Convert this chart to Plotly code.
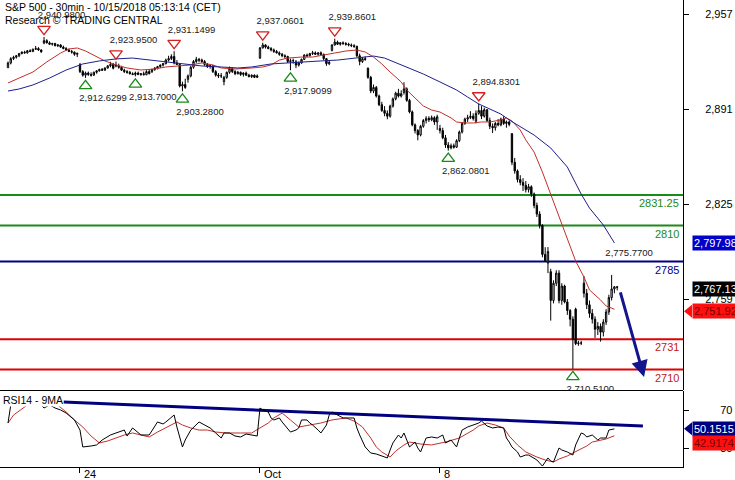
import plotly.graph_objects as go

# ---------------- DATA ----------------
# 30-min bars, S&P 500, Sep 20 - Oct 12 2018 (13 bars per session)
opens = [
    2919.7, 2923, 2926, 2927, 2928, 2929.5, 2930.5, 2930, 2931.5, 2931, 2932.5, 2933, 2932,
    2936.8, 2938.5, 2937, 2936, 2936.5, 2935, 2935.5, 2934, 2933, 2932, 2931, 2930.5, 2929,
    2921.8, 2917, 2914.5, 2916, 2915, 2914.5, 2916.5, 2917.5, 2918.5, 2918, 2919.5, 2921, 2922,
    2921.5, 2921, 2920, 2918, 2917, 2916.5, 2915.5, 2915, 2916, 2915, 2915.5, 2914.8, 2917,
    2917, 2918.5, 2919.5, 2920.5, 2921.5, 2922.5, 2925, 2926, 2927.5, 2923, 2922, 2907, 2908,
    2911.6, 2914, 2920, 2924, 2925.5, 2925, 2924, 2922, 2920.5, 2921, 2917, 2914.5, 2914,
    2910, 2913, 2916.5, 2919, 2917, 2915.5, 2916.5, 2915, 2916, 2914.5, 2913.5, 2914.5, 2913,
    2926.3, 2933.5, 2935.5, 2934, 2933, 2932, 2931, 2930, 2929, 2928, 2927.5, 2924, 2924.5,
    2923.8, 2921.5, 2923, 2925.5, 2928.5, 2928, 2929.5, 2930, 2929, 2930, 2929, 2926, 2922.5,
    2931.7, 2935.5, 2937.5, 2936, 2937, 2936.5, 2936, 2935.5, 2935, 2934.5, 2928, 2924, 2926,
    2919.4, 2913, 2903.5, 2906, 2900, 2894, 2890, 2888, 2886, 2893, 2898, 2902, 2900,
    2902.5, 2905, 2897, 2889, 2880, 2876, 2873, 2879, 2883, 2884.5, 2883.5, 2885, 2882,
    2877.5, 2876, 2871, 2866, 2864, 2865.5, 2864.5, 2869, 2875, 2881, 2884, 2885, 2886,
    2882.5, 2888, 2890, 2886, 2890.5, 2883, 2879, 2878, 2881, 2880, 2884, 2881, 2882,
    2873.9, 2854, 2848, 2842, 2840, 2838, 2835, 2837, 2832, 2824, 2818, 2810, 2790,
    2784, 2778, 2758, 2770, 2777, 2758, 2768, 2757, 2751, 2745, 2752, 2728, 2728.5,
    2770, 2763, 2755, 2749, 2745, 2738, 2740, 2736, 2743, 2750, 2760, 2766, 2767.5,
]
highs = [
    2924, 2927, 2928, 2928.5, 2930, 2931, 2931.5, 2932, 2932.5, 2933, 2934.8, 2934, 2932.5,
    2940.98, 2939.5, 2938, 2937, 2937, 2936, 2936, 2935, 2934, 2933, 2932, 2931, 2930,
    2923, 2918, 2917, 2917, 2916.5, 2917, 2918, 2919, 2919.5, 2920, 2921.5, 2923.8, 2923,
    2923.95, 2922.5, 2921, 2919, 2918, 2917.5, 2916.5, 2917, 2917, 2916, 2917, 2918, 2918.5,
    2919, 2920, 2921, 2922, 2923, 2926, 2928, 2929, 2931.15, 2925, 2922.5, 2910, 2912,
    2915, 2921, 2925, 2927.2, 2926.5, 2926, 2925, 2923, 2922, 2921.5, 2918, 2916, 2916,
    2914, 2917, 2920.5, 2920, 2918, 2917.5, 2917, 2916.5, 2917, 2915.5, 2915, 2915, 2915,
    2934, 2937.06, 2936, 2935, 2934, 2933, 2932, 2931, 2930, 2929, 2928, 2926, 2926,
    2925, 2924, 2926, 2929, 2929.5, 2930, 2931.4, 2931, 2930.5, 2931, 2929.5, 2926.5, 2925,
    2936, 2939.86, 2938.5, 2937.5, 2938, 2937.5, 2937, 2936.5, 2936, 2935, 2929.5, 2927, 2927.5,
    2919.8, 2914, 2908, 2907, 2901, 2896, 2893, 2890, 2894, 2899, 2903, 2905, 2904,
    2909.6, 2906, 2898, 2890, 2881, 2877, 2880, 2884, 2886, 2886, 2886.5, 2886, 2887,
    2880, 2878, 2873, 2868, 2867, 2867, 2870, 2876, 2882, 2885, 2887, 2889.5, 2888,
    2890, 2894.83, 2893, 2892, 2891, 2885, 2881, 2882, 2884, 2885, 2886, 2883, 2883,
    2874, 2857, 2849, 2845, 2843, 2841, 2839, 2838, 2833, 2826, 2820, 2811, 2795,
    2795.1, 2780, 2772, 2779, 2779, 2770, 2769, 2759, 2752, 2747, 2753, 2730, 2730,
    2775, 2766, 2758, 2752, 2747, 2743, 2742, 2745, 2752, 2762, 2775.77, 2768, 2768,
]
lows = [
    2919.7, 2922, 2925, 2926, 2927, 2929, 2929.5, 2929.5, 2930.5, 2930.5, 2932, 2931.5, 2930,
    2936, 2936.5, 2935.5, 2935, 2934.5, 2934, 2933.5, 2932.5, 2931.5, 2930.5, 2929.5, 2928, 2927.1,
    2916, 2913.5, 2912.63, 2914, 2913.5, 2914, 2915.5, 2917, 2917.5, 2917.5, 2919, 2920, 2918.5,
    2920, 2919, 2917.5, 2916, 2915.5, 2915, 2914.5, 2913.7, 2914.5, 2914, 2914.5, 2914.5, 2915,
    2916, 2917.5, 2918.5, 2919.5, 2920.5, 2922, 2924, 2925, 2922, 2921.5, 2906, 2903.28, 2905,
    2909.3, 2913, 2919, 2923, 2923.5, 2923, 2921, 2919.5, 2919, 2916, 2913.5, 2912.5, 2912.5,
    2907.5, 2912, 2915.5, 2916, 2914.5, 2915, 2914, 2913.5, 2914, 2913, 2912.5, 2912.5, 2912.5,
    2926, 2933, 2933, 2932.5, 2931, 2930, 2929.5, 2928, 2927, 2926, 2923, 2917.91, 2922.5,
    2919.4, 2920.5, 2922.5, 2925, 2927, 2927.5, 2928.5, 2928.5, 2928, 2928.5, 2925, 2921, 2921.5,
    2931, 2935, 2935.5, 2935, 2935.5, 2935, 2934.5, 2934, 2933.5, 2927, 2921.4, 2923, 2924.5,
    2912, 2902, 2902, 2899, 2893, 2889, 2886, 2883.9, 2885, 2892, 2897, 2899, 2899,
    2901, 2896, 2888, 2879, 2874, 2869.3, 2872, 2878, 2881, 2882, 2882.5, 2880, 2876.5,
    2874, 2870, 2864, 2862.08, 2863, 2863.5, 2864, 2868, 2874, 2880, 2882, 2884, 2883,
    2881, 2887, 2884, 2885, 2882, 2877, 2874.3, 2876, 2879, 2879, 2880, 2878, 2879,
    2852, 2846, 2840, 2838, 2834, 2833, 2833, 2830, 2822, 2816, 2808, 2788, 2784.9,
    2777, 2744, 2756, 2768, 2756, 2755, 2756, 2748, 2740, 2710.51, 2727, 2726.5, 2727,
    2760, 2752, 2746, 2742, 2732, 2734, 2729.44, 2733, 2741, 2748, 2758, 2763, 2765,
]
closes = [
    2923, 2926, 2927, 2928, 2929.5, 2930.5, 2930, 2931.5, 2931, 2932.5, 2933, 2932, 2930.8,
    2938.5, 2937, 2936, 2936.5, 2935, 2935.5, 2934, 2933, 2932, 2931, 2930.5, 2929, 2929.7,
    2917, 2914.5, 2916, 2915, 2914.5, 2916.5, 2917.5, 2918.5, 2918, 2919.5, 2921, 2922, 2919.4,
    2921, 2920, 2918, 2917, 2916.5, 2915.5, 2915, 2916, 2915, 2915.5, 2914.8, 2917, 2915.6,
    2918.5, 2919.5, 2920.5, 2921.5, 2922.5, 2925, 2926, 2927.5, 2923, 2922, 2907, 2908, 2906,
    2914, 2920, 2924, 2925.5, 2925, 2924, 2922, 2920.5, 2921, 2917, 2914.5, 2914, 2914,
    2913, 2916.5, 2919, 2917, 2915.5, 2916.5, 2915, 2916, 2914.5, 2913.5, 2914.5, 2913, 2914,
    2933.5, 2935.5, 2934, 2933, 2932, 2931, 2930, 2929, 2928, 2927.5, 2924, 2924.5, 2924.6,
    2921.5, 2923, 2925.5, 2928.5, 2928, 2929.5, 2930, 2929, 2930, 2929, 2926, 2922.5, 2923.4,
    2935.5, 2937.5, 2936, 2937, 2936.5, 2936, 2935.5, 2935, 2934.5, 2928, 2924, 2926, 2925.5,
    2913, 2903.5, 2906, 2900, 2894, 2890, 2888, 2886, 2893, 2898, 2902, 2900, 2901.6,
    2905, 2897, 2889, 2880, 2876, 2873, 2879, 2883, 2884.5, 2883.5, 2885, 2882, 2885.6,
    2876, 2871, 2866, 2864, 2865.5, 2864.5, 2869, 2875, 2881, 2884, 2885, 2886, 2884.4,
    2888, 2890, 2886, 2890.5, 2883, 2879, 2878, 2881, 2880, 2884, 2881, 2882, 2880.3,
    2854, 2848, 2842, 2840, 2838, 2835, 2837, 2832, 2824, 2818, 2810, 2790, 2785.7,
    2792, 2758, 2770, 2777, 2758, 2768, 2757, 2751, 2745, 2731, 2728, 2728.5, 2728.4,
    2763, 2755, 2749, 2745, 2738, 2740, 2736, 2743, 2750, 2760, 2766, 2767.5, 2767.13,
]
bars = list(range(len(closes)))

# moving averages on price (bar index, value)
ma_fast_bars = [0, 3, 9, 14, 19, 22, 25, 28, 31, 35, 39, 43, 48, 53, 57, 62, 66, 70, 74, 77,
                82, 88, 92, 95, 98, 101, 106, 110, 114, 119, 122, 126, 129, 132, 135, 138, 142, 144, 147, 150,
                153, 156, 160, 162, 165, 168, 171, 174, 178, 180, 182, 185, 187, 190, 193, 196, 200, 202, 205, 208,
                210, 214, 216, 219]
ma_fast_vals = [2909.1, 2911.8, 2916.7, 2923.7, 2929.9, 2932.7, 2933.4, 2931.3, 2928.5, 2924.4,
                2921.6, 2919.5, 2918.1, 2918.8, 2920.2, 2920.9, 2921.6, 2923.0, 2921.6, 2919.5,
                2918.8, 2919.5, 2920.2, 2921.6, 2925.0, 2926.4, 2927.1, 2927.1, 2928.5, 2930.6,
                2931.3, 2932.0, 2930.6, 2927.1, 2922.3, 2916.7, 2909.8, 2904.2, 2898.6, 2893.1,
                2890.3, 2888.9, 2884.8, 2882.0, 2881.3, 2881.3, 2882.0, 2882.0, 2883.4, 2884.8,
                2882.7, 2876.4, 2869.5, 2861.1, 2847.2, 2831.9, 2810.4, 2800.0, 2785.4, 2774.3,
                2765.3, 2758.3, 2754.2, 2751.92]
ma_slow_bars = [0, 4, 9, 15, 21, 27, 33, 39, 45, 51, 57, 64, 70, 77, 83, 88, 95, 101, 106, 113,
                119, 126, 132, 136, 142, 150, 156, 162, 166, 170, 178, 181, 190, 196, 202, 207, 210, 215, 219]
ma_slow_vals = [2903.5, 2904.9, 2907.7, 2912.5, 2918.1, 2922.3, 2924.4, 2925.8, 2926.4, 2925.0,
                2923.7, 2922.3, 2920.9, 2920.2, 2919.5, 2920.2, 2922.3, 2923.0, 2923.7, 2924.4,
                2925.0, 2926.4, 2927.8, 2926.4, 2921.6, 2915.3, 2909.8, 2904.2, 2899.3, 2894.5,
                2887.5, 2883.4, 2872.9, 2863.9, 2850.7, 2831.9, 2822.2, 2810.4, 2797.98]

# RSI(14) and its 9-period MA
rsi_bars = [0, 1, 3, 6, 9, 12, 13, 15, 17, 19, 21, 24, 26, 27, 30, 32, 34, 37, 39, 42,
            43, 45, 48, 51, 54, 56, 57, 60, 61, 63, 64, 66, 69, 71, 73, 75, 77, 78, 80, 82,
            84, 86, 88, 90, 91, 92, 94, 95, 96, 98, 99, 101, 102, 104, 105, 106, 108, 109, 110, 112,
            113, 115, 116, 117, 119, 121, 122, 125, 126, 127, 129, 131, 133, 134, 136, 137, 138, 139, 141, 142,
            143, 145, 147, 148, 149, 150, 151, 153, 155, 157, 158, 160, 162, 163, 164, 166, 168, 170, 171, 172,
            173, 175, 177, 179, 180, 181, 182, 184, 185, 187, 188, 191, 193, 195, 196, 197, 199, 200, 202, 204,
            205, 207, 208, 209, 211, 213, 214, 216, 217, 219]
rsi_vals = [56.3, 75.3, 82.6, 84.7, 81.6, 75.3, 72.1, 75.3, 72.1, 70.0,
            66.8, 59.5, 48.9, 31.1, 32.1, 33.2, 38.4, 43.7, 45.8, 48.9,
            42.6, 51.1, 43.7, 43.7, 57.4, 55.3, 57.4, 64.7, 52.1, 31.1,
            38.4, 48.9, 57.4, 54.2, 51.1, 45.8, 40.5, 45.8, 45.8, 42.6,
            41.6, 44.7, 43.7, 42.6, 72.1, 70.0, 67.9, 61.6, 59.5, 61.6,
            57.4, 51.1, 46.8, 48.9, 51.1, 59.5, 59.5, 56.3, 54.2, 48.9,
            45.8, 54.2, 64.7, 67.9, 64.7, 61.6, 61.6, 61.6, 51.1, 43.7,
            31.1, 24.7, 23.7, 22.6, 20.5, 19.5, 27.9, 35.3, 43.7, 40.5,
            45.8, 31.1, 36.3, 30.0, 25.8, 33.2, 40.5, 41.6, 40.5, 43.7,
            35.3, 38.4, 31.1, 40.5, 48.9, 52.1, 54.2, 56.3, 58.4, 55.3,
            53.2, 51.1, 52.1, 51.1, 40.5, 36.3, 31.1, 25.8, 20.5, 22.6,
            22.6, 17.4, 11.0, 19.5, 16.3, 15.3, 30.0, 27.9, 25.8, 22.6,
            33.2, 45.8, 44.7, 41.6, 43.7, 38.4, 40.5, 40.5, 48.9, 50.1515]
rsi_ma_bars = [0, 2, 7, 12, 17, 21, 24, 27, 30, 33, 36, 39, 42, 45, 48, 51, 54, 57, 61, 63,
               66, 69, 72, 75, 79, 84, 88, 91, 94, 96, 99, 102, 105, 109, 113, 117, 122, 125, 128, 131,
               133, 135, 138, 140, 143, 145, 149, 153, 158, 163, 168, 170, 173, 176, 179, 181, 184, 187, 191, 194,
               197, 199, 202, 204, 207, 209, 211, 214, 216, 219]
rsi_ma_vals = [56.3, 64.7, 75.3, 80.5, 77.4, 67.9, 59.5, 52.1, 42.6, 35.3,
               37.4, 40.5, 43.7, 45.8, 43.7, 41.6, 46.8, 51.1, 57.4, 54.2,
               51.1, 48.9, 48.9, 46.8, 45.8, 45.8, 45.8, 51.1, 56.3, 61.6,
               66.8, 59.5, 52.1, 54.2, 56.3, 59.5, 61.6, 58.4, 52.1, 40.5,
               31.1, 25.8, 20.5, 26.8, 33.2, 36.3, 34.2, 33.2, 36.3, 40.5,
               48.9, 53.2, 56.3, 54.2, 51.1, 42.6, 33.2, 25.8, 20.5, 17.4,
               15.3, 18.4, 21.6, 24.7, 29.0, 32.1, 36.3, 38.4, 39.5, 42.9174]
rsi_trend_bars = [20, 229.3]
rsi_trend_vals = [78.4, 53.2]

# pivots
peak_bars = [13, 39, 60, 92, 118, 170]
peak_vals = [2940.98, 2923.95, 2931.1499, 2937.0601, 2939.8601, 2894.8301]
peak_labels = ["2,940.9800", "2,923.9500", "2,931.1499", "2,937.0601", "2,939.8601", "2,894.8301"]
trough_bars = [28, 46, 63, 102, 159, 204]
trough_vals = [2912.6299, 2913.70, 2903.28, 2917.9099, 2862.0801, 2710.51]
trough_labels = ["2,912.6299", "2,913.7000", "2,903.2800", "2,917.9099", "2,862.0801", "2,710.5100"]
last_high_bar = [218]
last_high_val = [2775.77]
last_high_label = ["2,775.7700"]

# key levels
res_levels = [2831.25, 2810]
pivot_level = [2785]
sup_levels = [2731, 2710]

# forecast arrow (tail bar/price -> head bar/price)
arrow_bars = [221, 229.7]
arrow_vals = [2764.6, 2704.8]

tick_bars = [26, 91, 156]
tick_labels = ["24", "Oct", "8"]

price_ticks = [2759, 2825, 2891, 2957]
rsi_ticks = [30, 70]

last_price = 2767.13
last_ma_fast = 2751.92
last_ma_slow = 2797.98
last_rsi = 50.1515
last_rsi_ma = 42.9174

# ---------------- LAYOUT CONSTANTS ----------------
FONT = "Liberation Sans, Arial, sans-serif"
PLOT_W, PLOT_H = 683, 467
X_RANGE = [-2.889, 243.77]
BAR_PX = PLOT_W / (X_RANGE[1] - X_RANGE[0])
Y_RANGE = [2695.8, 2966.73]
MAIN_PX = 390
PRICE_PER_PX = (Y_RANGE[1] - Y_RANGE[0]) / MAIN_PX
RSI_RANGE = [10, 90]
RSI_PX = 76
RSI_PER_PX = (RSI_RANGE[1] - RSI_RANGE[0]) / RSI_PX
main_dom = [(PLOT_H - MAIN_PX) / PLOT_H, 1]
rsi_dom = [0, RSI_PX / PLOT_H]

RED = "#D42020"
GREEN = "#1A8A1A"
NAVY = "#000080"
MA_RED = "#C0302A"
MA_BLUE = "#1E1E8C"

fig = go.Figure()

fig.add_trace(go.Candlestick(
    x=bars, open=opens, high=highs, low=lows, close=closes,
    xaxis="x", yaxis="y",
    increasing=dict(line=dict(color="black", width=1), fillcolor="white"),
    decreasing=dict(line=dict(color="black", width=1), fillcolor="black"),
    whiskerwidth=0, showlegend=False, hoverinfo="skip"))

fig.add_trace(go.Scatter(x=ma_fast_bars, y=ma_fast_vals, mode="lines",
                         line=dict(color=MA_RED, width=1), xaxis="x", yaxis="y",
                         showlegend=False, hoverinfo="skip"))
fig.add_trace(go.Scatter(x=ma_slow_bars, y=ma_slow_vals, mode="lines",
                         line=dict(color=MA_BLUE, width=1), xaxis="x", yaxis="y",
                         showlegend=False, hoverinfo="skip"))

# pivot markers and labels
def lbl_dx(t):
    return (len(t) * 4.7 / 2 - 6) / BAR_PX

fig.add_trace(go.Scatter(
    x=peak_bars, y=[v + 8 * PRICE_PER_PX for v in peak_vals], mode="markers",
    marker=dict(symbol="triangle-down-open", size=11, color=RED, line=dict(width=1.3, color=RED)),
    xaxis="x", yaxis="y", showlegend=False, hoverinfo="skip"))
fig.add_trace(go.Scatter(
    x=[b + lbl_dx(t) for b, t in zip(peak_bars + last_high_bar, peak_labels + last_high_label)],
    y=[v + 21 * PRICE_PER_PX for v in peak_vals + last_high_val],
    text=peak_labels + last_high_label, mode="text", textposition="middle center",
    textfont=dict(family=FONT, size=9.5, color="#202020"),
    xaxis="x", yaxis="y", showlegend=False, hoverinfo="skip"))
fig.add_trace(go.Scatter(
    x=trough_bars, y=[v - 8 * PRICE_PER_PX for v in trough_vals], mode="markers",
    marker=dict(symbol="triangle-up-open", size=11, color=GREEN, line=dict(width=1.3, color=GREEN)),
    xaxis="x", yaxis="y", showlegend=False, hoverinfo="skip"))
fig.add_trace(go.Scatter(
    x=[b + lbl_dx(t) for b, t in zip(trough_bars, trough_labels)],
    y=[v - 21 * PRICE_PER_PX for v in trough_vals],
    text=trough_labels, mode="text", textposition="middle center",
    textfont=dict(family=FONT, size=9.5, color="#202020"),
    xaxis="x", yaxis="y", showlegend=False, hoverinfo="skip"))

# RSI panel
fig.add_trace(go.Scatter(x=rsi_trend_bars, y=rsi_trend_vals, mode="lines",
                         line=dict(color=NAVY, width=3), xaxis="x", yaxis="y2",
                         showlegend=False, hoverinfo="skip"))
fig.add_trace(go.Scatter(x=rsi_ma_bars, y=rsi_ma_vals, mode="lines",
                         line=dict(color=MA_RED, width=1), xaxis="x", yaxis="y2",
                         showlegend=False, hoverinfo="skip"))
fig.add_trace(go.Scatter(x=rsi_bars, y=rsi_vals, mode="lines",
                         line=dict(color="black", width=1), xaxis="x", yaxis="y2",
                         showlegend=False, hoverinfo="skip"))

shapes = []
annotations = []

# level lines + labels
for lv, col in ([(v, GREEN) for v in res_levels] + [(v, NAVY) for v in pivot_level]
                + [(v, "#E00000") for v in sup_levels]):
    shapes.append(dict(type="line", xref="paper", x0=0, x1=1, yref="y", y0=lv, y1=lv,
                       line=dict(color=col, width=2), layer="below"))
    txt = ("%g" % lv)
    annotations.append(dict(xref="paper", x=1 - 2 / PLOT_W, xanchor="right", yref="y", y=lv,
                            yanchor="middle", yshift=-8, text=txt, showarrow=False,
                            font=dict(family=FONT, size=11,
                                      color=col if col != "#E00000" else "#C02020")))

# separator between panels
sep_y = (PLOT_H - MAIN_PX - 0.5) / PLOT_H
shapes.append(dict(type="line", xref="paper", x0=0, x1=1, yref="paper", y0=sep_y, y1=sep_y,
                   line=dict(color="black", width=1)))

# title
annotations.append(dict(xref="paper", yref="paper", x=3 / PLOT_W, y=1 - 7 / PLOT_H,
                        xanchor="left", yanchor="middle", showarrow=False,
                        text="S&amp;P 500 - 30min - 10/15/2018 05:13:14 (CET)",
                        font=dict(family=FONT, size=10.5, color="black")))
annotations.append(dict(xref="paper", yref="paper", x=3 / PLOT_W, y=1 - 20 / PLOT_H,
                        xanchor="left", yanchor="middle", showarrow=False,
                        text="Research © TRADING CENTRAL",
                        font=dict(family=FONT, size=10.5, color="black")))
# RSI label
annotations.append(dict(xref="paper", yref="y2", x=2 / PLOT_W, y=80.5,
                        xanchor="left", yanchor="middle", showarrow=False,
                        text="RSI14 - 9MA", bgcolor="white", borderpad=0,
                        font=dict(family=FONT, size=10.5, color="black")))
# x tick labels
for b, t in zip(tick_bars, tick_labels):
    annotations.append(dict(xref="x", yref="paper", x=b, y=0, xanchor="left", yanchor="middle",
                            xshift=2, yshift=-7, showarrow=False, text=t,
                            font=dict(family=FONT, size=11, color="black")))

# forecast arrow
annotations.append(dict(xref="x", yref="y", x=arrow_bars[1], y=arrow_vals[1],
                        axref="x", ayref="y", ax=arrow_bars[0], ay=arrow_vals[0],
                        text="", showarrow=True, arrowhead=2, arrowsize=1.1,
                        arrowwidth=3, arrowcolor="#14148C", standoff=0))

# value tags on the right axis
BOX_X = 692 / PLOT_W
TIP_X = 684 / PLOT_W
def tag(val, txt, bg, fg, yref, shift, pointer, unit):
    annotations.append(dict(xref="paper", x=BOX_X, xanchor="left", yref=yref,
                            y=val, yanchor="middle", yshift=shift, text=txt,
                            showarrow=False, bgcolor=bg, borderpad=1,
                            font=dict(family=FONT, size=11, color=fg)))
    if pointer:
        c = val + shift * unit
        h = 6.5 * unit
        shapes.append(dict(type="path", xref="paper", yref=yref,
                           path=f"M {BOX_X},{c + h} L {TIP_X},{c} L {BOX_X},{c - h} Z",
                           fillcolor=bg, line=dict(width=0)))

tag(last_ma_slow, "2,797.98", "#0000C8", "white", "y", 0, False, PRICE_PER_PX)
tag(last_price, "2,767.13", "black", "white", "y", -1.5, False, PRICE_PER_PX)
tag(last_ma_fast, "2,751.92", "#FF1010", "#7A0000", "y", -2, True, PRICE_PER_PX)
tag(last_rsi, "50.1515", NAVY, "white", "y2", 0, True, RSI_PER_PX)
tag(last_rsi_ma, "42.9174", "#FF1010", "#7A0000", "y2", -7, False, RSI_PER_PX)

fig.update_layout(
    width=735, height=480,
    margin=dict(l=0, r=735 - PLOT_W, t=0, b=480 - PLOT_H - 0),
    paper_bgcolor="white", plot_bgcolor="white",
    hovermode=False, showlegend=False,
    font=dict(family=FONT, size=11, color="black"),
    xaxis=dict(domain=[0, 1], range=X_RANGE, anchor="y2", showgrid=False, zeroline=False,
               showline=True, linecolor="black", linewidth=1,
               ticks="outside", ticklen=5, tickcolor="black", tickwidth=1,
               tickvals=tick_bars, ticktext=["", "", ""],
               rangeslider=dict(visible=False), fixedrange=True),
    yaxis=dict(domain=main_dom, range=Y_RANGE, side="right", anchor="x",
               showgrid=False, zeroline=False, showline=True, linecolor="black", linewidth=1,
               ticks="outside", ticklen=5, tickcolor="black", tickvals=price_ticks,
               tickformat=",", ticklabelstandoff=14,
               tickfont=dict(family=FONT, size=11, color="black"), fixedrange=True),
    yaxis2=dict(domain=rsi_dom, range=RSI_RANGE, side="right", anchor="x",
                showgrid=False, zeroline=False, showline=True, linecolor="black", linewidth=1,
                ticks="outside", ticklen=5, tickcolor="black", tickvals=rsi_ticks,
                ticklabelstandoff=29,
                tickfont=dict(family=FONT, size=11, color="black"), fixedrange=True),
    shapes=shapes, annotations=annotations,
)

fig.write_html("out.html", config={"displayModeBar": False},
               post_script="document.body.style.margin='0px';document.body.style.overflow='hidden';")
